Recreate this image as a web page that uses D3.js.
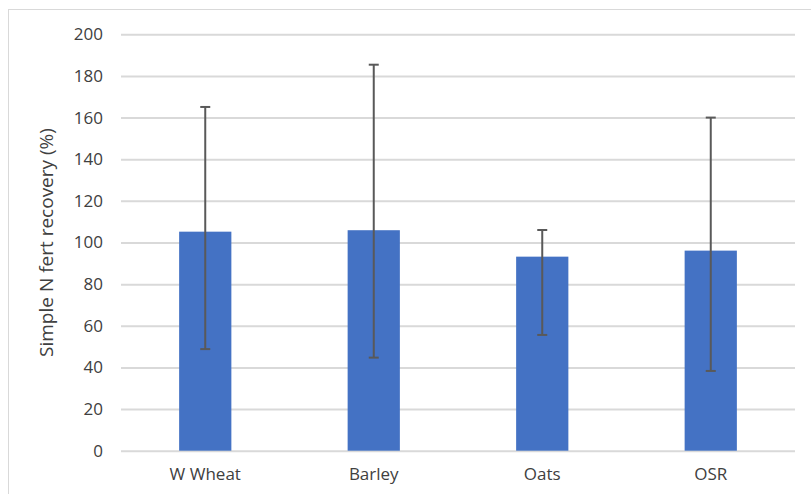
<!DOCTYPE html>
<html><head><meta charset="utf-8">
<script src="https://cdn.jsdelivr.net/npm/d3@7"></script>
<style>
html,body{margin:0;padding:0;background:#fff;}
svg{display:block;}
text{font-family:"Open Sans",sans-serif;fill:#404040;}
</style></head><body>
<svg id="c" width="811" height="494"></svg>
<script>
const categories = ["W Wheat", "Barley", "Oats", "OSR"];
const values = [105.2, 105.9, 93.2, 96.1];
const errUpper = [165.1, 185.4, 106.0, 160.0];
const errLower = [48.8, 44.7, 55.6, 38.3];
const yTicks = [0, 20, 40, 60, 80, 100, 120, 140, 160, 180, 200];
const yLabel = "Simple N fert recovery (%)";

(function () {
const svg = d3.select("#c");
const pl = 121, pr = 795, pt = 34.3, pb = 450.7;
const font = '"Open Sans",sans-serif';

svg.append("rect").attr("x", 8.5).attr("y", 9.5).attr("width", 820).attr("height", 500)
  .attr("fill", "#fff").attr("stroke", "#d9d9d9").attr("stroke-width", 1);

const x = d3.scaleBand().domain(categories).range([pl, pr]).paddingInner(0.69).paddingOuter(0.345);
const y = d3.scaleLinear().domain([0, 200]).range([pb, pt]);

const yAxis = svg.append("g").attr("transform", `translate(${pl},0)`)
  .call(d3.axisLeft(y).tickValues(yTicks).tickSize(-(pr - pl)).tickPadding(18));
yAxis.select(".domain").remove();
yAxis.selectAll("line").attr("stroke", "#d9d9d9").attr("stroke-width", 2);
yAxis.selectAll("text").attr("font-size", 17).attr("fill", "#333333").style("font-family", font);

svg.selectAll(".bar").data(categories).enter().append("rect")
  .attr("x", d => x(d)).attr("width", x.bandwidth())
  .attr("y", (d, i) => y(values[i])).attr("height", (d, i) => y(0) - y(values[i]))
  .attr("fill", "#4472c4");

const eb = svg.append("g").attr("stroke", "#595959").attr("stroke-width", 2);
categories.forEach((c, i) => {
  const cx = x(c) + x.bandwidth() / 2;
  eb.append("line").attr("x1", cx).attr("x2", cx).attr("y1", y(errUpper[i])).attr("y2", y(errLower[i]));
  eb.append("line").attr("x1", cx - 5).attr("x2", cx + 5).attr("y1", y(errUpper[i])).attr("y2", y(errUpper[i]));
  eb.append("line").attr("x1", cx - 5).attr("x2", cx + 5).attr("y1", y(errLower[i])).attr("y2", y(errLower[i]));
});

const xAxis = svg.append("g").attr("transform", `translate(0,${pb})`)
  .call(d3.axisBottom(x).tickSize(0).tickPadding(17));
xAxis.select(".domain").remove();
xAxis.selectAll("text").attr("font-size", 17).attr("fill", "#333333").style("font-family", font);

svg.append("text").attr("transform", `translate(53,${(pt + pb) / 2}) rotate(-90)`)
  .attr("text-anchor", "middle").attr("font-size", 19).attr("fill", "#333333").text(yLabel);
})();
</script>
</body></html>
